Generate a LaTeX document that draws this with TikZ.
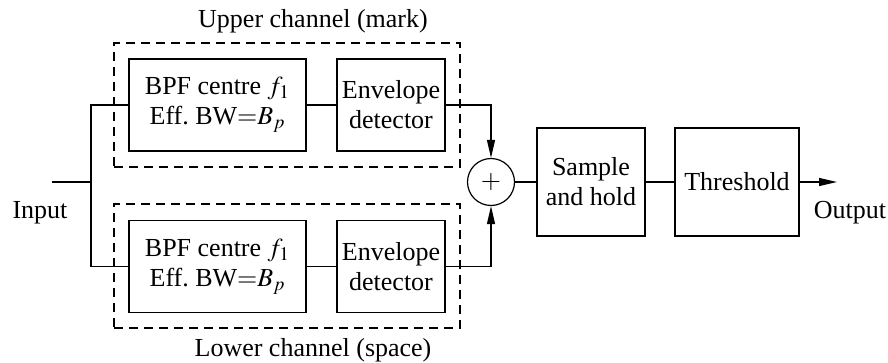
\documentclass[tikz,border=0pt]{standalone}
\usepackage{mathptmx}
\usepackage[no-math]{fontspec}
\setmainfont{Liberation Serif}
\usetikzlibrary{arrows.meta}
\begin{document}
\begin{tikzpicture}[x=0.5pt,y=-0.5pt,
  font=\fontsize{13}{15}\selectfont,
  line width=0.6pt,
  blk/.style={draw,rectangle,align=center,inner sep=0pt},
  bpfbox/.style={blk,minimum width=88.5pt,minimum height=46pt},
  envbox/.style={blk,minimum width=54pt,minimum height=46pt},
  chan/.style={draw,dashed,dash pattern=on 4.5pt off 3pt,rectangle,minimum width=173pt,minimum height=62pt,inner sep=0pt},
  arr/.style={-{Triangle[length=9pt,width=4pt]}},
  lbl/.style={inner sep=0pt}]
\useasboundingbox (0,0) rectangle (888,363);
% channel frames
\node[chan] (upch) at (287,105) {};
\node[chan] (loch) at (287,266) {};
\node[lbl] (uplbl) at (313,21) {Upper channel (mark)};
\node[lbl] (lolbl) at (313,350) {Lower channel (space)};
% blocks
\node[bpfbox] (bpfu) at (217.5,105) {BPF centre $f_1$\\Eff.\ BW$=$$B_p$};
\node[envbox] (envu) at (391,105) {Envelope\\detector};
\node[bpfbox] (bpfl) at (217.5,266.5) {BPF centre $f_1$\\Eff.\ BW$=$$B_p$};
\node[envbox] (envl) at (391,266.5) {Envelope\\detector};
\node[draw,circle,minimum size=23.5pt,inner sep=0pt] (sum) at (491,182) {$+$};
\node[blk,minimum width=54pt,minimum height=54pt] (sh) at (591,182) {Sample\\and hold};
\node[blk,minimum width=62pt,minimum height=54pt] (thr) at (737,182) {Threshold};
% terminals
\coordinate (in) at (52,182);
\coordinate (jn) at (91,182);
\coordinate (out) at (837,182);
\node[lbl] (inlbl) at (40,213) {Input};
\node[lbl] (outlbl) at (850,213) {Output};
% connectors
\draw (in) -- (jn);
\draw (jn) |- (bpfu.west);
\draw (jn) |- (bpfl.west);
\draw (bpfu) -- (envu);
\draw (bpfl) -- (envl);
\draw[arr] (envu.east) -| (sum.north);
\draw[arr] (envl.east) -| (sum.south);
\draw (sum) -- (sh);
\draw (sh) -- (thr);
\draw[arr] (thr) -- (out);
\end{tikzpicture}
\end{document}
